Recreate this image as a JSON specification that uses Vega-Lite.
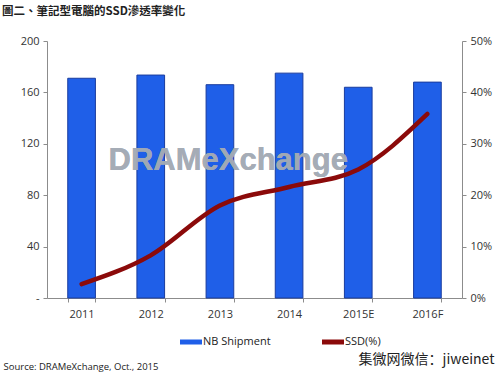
{
  "$schema": "https://vega.github.io/schema/vega-lite/v6.json",
  "autosize": "none",
  "width": 415,
  "height": 257,
  "padding": {"left": 47, "top": 41, "right": 38, "bottom": 79},
  "background": "white",
  "title": {
    "text": "圖二、筆記型電腦的SSD滲透率變化",
    "anchor": "start",
    "frame": "group",
    "dx": -45,
    "offset": 18,
    "font": "Noto Sans CJK TC",
    "fontSize": 11.5,
    "fontWeight": "bold",
    "color": "#222222"
  },
  "config": {
    "view": {"stroke": null},
    "axis": {
      "labelFont": "Open Sans",
      "labelFontSize": 11,
      "labelColor": "#333333",
      "domainColor": "#8c8c8c",
      "tickColor": "#8c8c8c",
      "grid": false,
      "tickSize": 4
    }
  },
  "data": {
    "values": [
      {"year": "2011", "nb": 171, "ssd": 2.7},
      {"year": "2012", "nb": 173.5, "ssd": 8.3},
      {"year": "2013", "nb": 166, "ssd": 18.0},
      {"year": "2014", "nb": 175, "ssd": 21.6},
      {"year": "2015E", "nb": 164, "ssd": 25.0},
      {"year": "2016F", "nb": 168, "ssd": 35.8}
    ]
  },
  "encoding": {
    "x": {
      "field": "year",
      "type": "nominal",
      "sort": null,
      "scale": {"paddingInner": 0.6, "paddingOuter": 0.3},
      "axis": {
        "labelAngle": 0,
        "tickBand": "extent",
        "labelPadding": 6,
        "title": "Source: DRAMeXchange, Oct., 2015",
        "titleFont": "Open Sans",
        "titleFontSize": 9.5,
        "titleFontWeight": "normal",
        "titleColor": "#222222",
        "titleAnchor": "start",
        "titleAlign": "left",
        "titleBaseline": "middle",
        "titleX": -44,
        "titleY": 68
      }
    }
  },
  "layer": [
    {
      "layer": [
        {
          "mark": {"type": "bar", "stroke": "#1a3c9e", "strokeWidth": 1},
          "encoding": {
            "y": {
              "field": "nb",
              "type": "quantitative",
              "scale": {"domain": [0, 200]},
              "axis": {
                "values": [0, 40, 80, 120, 160, 200],
                "labelExpr": "datum.value === 0 ? '-' : datum.label",
                "title": null,
                "labelPadding": 4
              }
            },
            "color": {
              "datum": "NB Shipment",
              "scale": {"domain": ["NB Shipment", "SSD(%)"], "range": ["#1f5fe8", "#8b0a0a"]},
              "legend": {
                "orient": "none",
                "legendX": 133,
                "legendY": 290,
                "direction": "horizontal",
                "columns": 2,
                "columnPadding": 48,
                "title": null,
                "labelFont": "Open Sans",
                "labelFontSize": 11,
                "labelColor": "#222222",
                "symbolSize": 420,
                "labelOffset": 1,
                "symbolType": "M-1,-0.16H1V0.16H-1Z",
                "encode": {
                  "symbols": {
                    "update": {
                      "shape": {"signal": "datum.value === 'NB Shipment' ? 'M-1,-0.16H1V0.16H-1Z' : 'M-1,-0.09H1V0.09H-1Z'"},
                      "fill": {"signal": "datum.value === 'NB Shipment' ? '#1f5fe8' : '#8b0a0a'"},
                      "stroke": {"signal": "datum.value === 'NB Shipment' ? '#1a3c9e' : '#8b0a0a'"},
                      "strokeWidth": {"value": 1},
                      "opacity": {"value": 1},
                      "fillOpacity": {"value": 1}
                    }
                  }
                }
              }
            }
          }
        },
        {
          "mark": {
            "type": "text",
            "text": "DRAMeXchange",
            "font": "Liberation Sans",
            "fontSize": 31,
            "fontWeight": "bold",
            "color": "#a4abb5",
            "opacity": 0.45,
            "align": "center",
            "baseline": "middle"
          },
          "encoding": {
            "x": {"datum": "2013", "bandPosition": 0.8},
            "y": {"datum": 107, "type": "quantitative"}
          }
        }
      ]
    },
    {
      "mark": {"type": "line", "interpolate": "monotone", "strokeWidth": 4.5, "strokeCap": "round"},
      "encoding": {
        "y": {
          "field": "ssd",
          "type": "quantitative",
          "scale": {"domain": [0, 50]},
          "axis": {
            "orient": "right",
            "values": [0, 10, 20, 30, 40, 50],
            "labelExpr": "datum.value + '%'",
            "labelPadding": 4,
            "title": "集微网微信：jiweinet",
            "titleFont": "Noto Sans CJK SC",
            "titleFontSize": 14,
            "titleFontWeight": "normal",
            "titleColor": "#222222",
            "titleAngle": 0,
            "titleAlign": "right",
            "titleBaseline": "middle",
            "titleX": 32,
            "titleY": 318
          }
        },
        "color": {"datum": "SSD(%)"}
      }
    }
  ],
  "resolve": {"scale": {"y": "independent"}}
}
